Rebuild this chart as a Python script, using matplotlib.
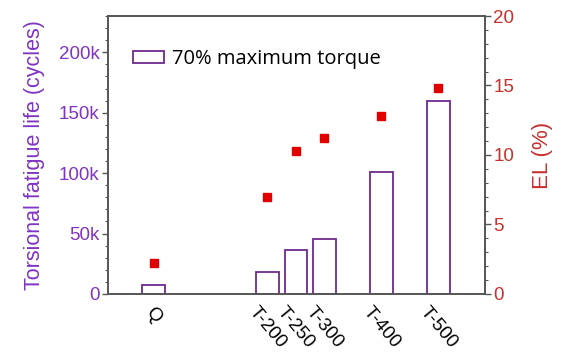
import matplotlib
matplotlib.use('Agg')
import matplotlib.pyplot as plt
from matplotlib.ticker import MultipleLocator, FuncFormatter

# sample positions (tempering temperature, Q = as-quenched at 0)
x_pos = [0, 200, 250, 300, 400, 500]
x_labels = ['Q', 'T-200', 'T-250', 'T-300', 'T-400', 'T-500']
fatigue_life = [7500, 18000, 36800, 45800, 100800, 159700]
elongation = [2.2, 7.0, 10.3, 11.2, 12.8, 14.8]

purple_txt = '#8033C4'
purple_bar = '#6E2A8C'
red_txt = '#C8302E'
red_pt = '#E00000'
axis_col = '#555555'


def main():
    plt.rcParams['font.family'] = ['Liberation Sans', 'DejaVu Sans']
    fig, ax = plt.subplots(figsize=(5.67, 3.58), dpi=100)
    fig.subplots_adjust(left=0.1905, right=0.8554, top=0.9553, bottom=0.1788)

    ax.bar(x_pos, fatigue_life, width=40, facecolor='white', edgecolor=purple_bar,
           linewidth=1.3, label='70% maximum torque', zorder=2)
    ax.set_xlim(-80, 582)
    ax.set_ylim(0, 230000)
    ax.yaxis.set_major_locator(MultipleLocator(50000))
    ax.yaxis.set_minor_locator(MultipleLocator(10000))
    ax.yaxis.set_major_formatter(FuncFormatter(lambda v, p: '0' if v == 0 else f'{int(v / 1000)}k'))
    ax.tick_params(axis='y', which='major', direction='out', length=4, width=1,
                   colors=axis_col, labelcolor=purple_txt, labelsize=13.5, pad=2)
    ax.tick_params(axis='y', which='minor', direction='out', length=2.5, width=0.8, colors=axis_col)
    ax.set_ylabel('Torsional fatigue life (cycles)', color=purple_txt, fontsize=15.5, labelpad=10)

    ax.set_xticks(x_pos)
    ax.set_xticklabels(x_labels, rotation=-50, ha='center', va='top')
    ax.tick_params(axis='x', length=0, labelsize=13.5, pad=7)
    for sp in ax.spines.values():
        sp.set_color(axis_col)
        sp.set_linewidth(1.2)

    ax2 = ax.twinx()
    ax2.plot(x_pos, elongation, linestyle='none', marker='s', markersize=6,
             color=red_pt, zorder=3)
    ax2.set_ylim(0, 20)
    ax2.yaxis.set_major_locator(MultipleLocator(5))
    ax2.yaxis.set_minor_locator(MultipleLocator(1))
    ax2.tick_params(axis='y', which='major', direction='out', length=4, width=1,
                    colors=axis_col, labelcolor=red_txt, labelsize=13.5, pad=2)
    ax2.tick_params(axis='y', which='minor', direction='out', length=2.5, width=0.8, colors=axis_col)
    ax2.set_ylabel('EL (%)', color=red_txt, fontsize=16, labelpad=13)
    for sp in ax2.spines.values():
        sp.set_color(axis_col)
        sp.set_linewidth(1.2)

    ax.legend(loc='upper left', bbox_to_anchor=(0.066, 0.88), frameon=False,
              borderpad=0, borderaxespad=0,
              handlelength=1.55, handleheight=0.55, handletextpad=0.4,
              prop={'family': 'Open Sans', 'size': 14.5})

    fig.savefig('out.png', dpi=100)


if __name__ == '__main__':
    main()
